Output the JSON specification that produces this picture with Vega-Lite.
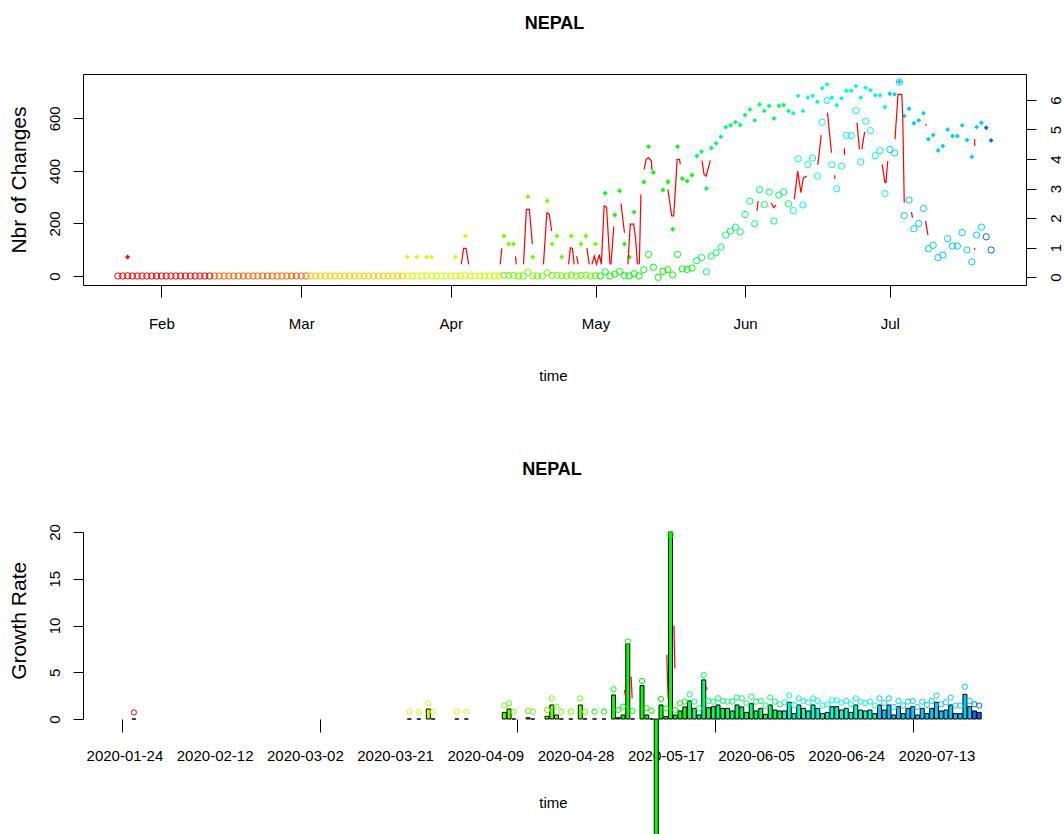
{
  "$schema": "https://vega.github.io/schema/vega-lite/v6.json",
  "background": "white",
  "padding": {"left": 7, "top": 14, "right": 0, "bottom": 0},
  "bounds": "flush",
  "spacing": 247,
  "config": {
    "font": "Liberation Sans",
    "view": {"stroke": null},
    "axis": {"grid": false, "domainColor": "black", "tickColor": "black", "labelColor": "black", "titleColor": "black", "labelFont": "Liberation Sans", "titleFont": "Liberation Sans", "labelFontSize": 15, "titleFontSize": 15, "titleFontWeight": "normal", "domainWidth": 1, "tickWidth": 1, "labelOverlap": false, "labelFlush": false, "labelBound": false},
    "title": {"fontSize": 18, "fontWeight": "bold", "font": "Liberation Sans", "color": "black", "anchor": "middle"}
  },
  "datasets": {
    "main": [
      {"date":"2020-01-23","d":0,"c":0},
      {"date":"2020-01-24","d":1,"c":0},
      {"date":"2020-01-25","d":2,"c":1,"lc":0.68},
      {"date":"2020-01-26","d":3,"c":0,"gr":0,"gc":0.7},
      {"date":"2020-01-27","d":4,"c":0},
      {"date":"2020-01-28","d":5,"c":0},
      {"date":"2020-01-29","d":6,"c":0},
      {"date":"2020-01-30","d":7,"c":0},
      {"date":"2020-01-31","d":8,"c":0},
      {"date":"2020-02-01","d":9,"c":0},
      {"date":"2020-02-02","d":10,"c":0},
      {"date":"2020-02-03","d":11,"c":0},
      {"date":"2020-02-04","d":12,"c":0},
      {"date":"2020-02-05","d":13,"c":0},
      {"date":"2020-02-06","d":14,"c":0},
      {"date":"2020-02-07","d":15,"c":0},
      {"date":"2020-02-08","d":16,"c":0},
      {"date":"2020-02-09","d":17,"c":0},
      {"date":"2020-02-10","d":18,"c":0},
      {"date":"2020-02-11","d":19,"c":0},
      {"date":"2020-02-12","d":20,"c":0},
      {"date":"2020-02-13","d":21,"c":0},
      {"date":"2020-02-14","d":22,"c":0},
      {"date":"2020-02-15","d":23,"c":0},
      {"date":"2020-02-16","d":24,"c":0},
      {"date":"2020-02-17","d":25,"c":0},
      {"date":"2020-02-18","d":26,"c":0},
      {"date":"2020-02-19","d":27,"c":0},
      {"date":"2020-02-20","d":28,"c":0},
      {"date":"2020-02-21","d":29,"c":0},
      {"date":"2020-02-22","d":30,"c":0},
      {"date":"2020-02-23","d":31,"c":0},
      {"date":"2020-02-24","d":32,"c":0},
      {"date":"2020-02-25","d":33,"c":0},
      {"date":"2020-02-26","d":34,"c":0},
      {"date":"2020-02-27","d":35,"c":0},
      {"date":"2020-02-28","d":36,"c":0},
      {"date":"2020-02-29","d":37,"c":0},
      {"date":"2020-03-01","d":38,"c":0},
      {"date":"2020-03-02","d":39,"c":0},
      {"date":"2020-03-03","d":40,"c":0},
      {"date":"2020-03-04","d":41,"c":0},
      {"date":"2020-03-05","d":42,"c":0},
      {"date":"2020-03-06","d":43,"c":0},
      {"date":"2020-03-07","d":44,"c":0},
      {"date":"2020-03-08","d":45,"c":0},
      {"date":"2020-03-09","d":46,"c":0},
      {"date":"2020-03-10","d":47,"c":0},
      {"date":"2020-03-11","d":48,"c":0},
      {"date":"2020-03-12","d":49,"c":0},
      {"date":"2020-03-13","d":50,"c":0},
      {"date":"2020-03-14","d":51,"c":0},
      {"date":"2020-03-15","d":52,"c":0},
      {"date":"2020-03-16","d":53,"c":0},
      {"date":"2020-03-17","d":54,"c":0},
      {"date":"2020-03-18","d":55,"c":0},
      {"date":"2020-03-19","d":56,"c":0},
      {"date":"2020-03-20","d":57,"c":0},
      {"date":"2020-03-21","d":58,"c":0},
      {"date":"2020-03-22","d":59,"c":0},
      {"date":"2020-03-23","d":60,"c":1,"lc":0.68},
      {"date":"2020-03-24","d":61,"c":0,"gr":0,"gc":0.78},
      {"date":"2020-03-25","d":62,"c":1,"lc":0.68},
      {"date":"2020-03-26","d":63,"c":0,"gr":0,"gc":0.78},
      {"date":"2020-03-27","d":64,"c":1,"lc":0.68},
      {"date":"2020-03-28","d":65,"c":1,"lc":0.68,"gr":1.07,"gc":1.68},
      {"date":"2020-03-29","d":66,"c":0,"gr":0,"gc":0.78},
      {"date":"2020-03-30","d":67,"c":0},
      {"date":"2020-03-31","d":68,"c":0},
      {"date":"2020-04-01","d":69,"c":0},
      {"date":"2020-04-02","d":70,"c":1,"lc":0.68},
      {"date":"2020-04-03","d":71,"c":0,"gr":0,"gc":0.78},
      {"date":"2020-04-04","d":72,"c":3,"lc":1.39},
      {"date":"2020-04-05","d":73,"c":0,"gr":0,"gc":0.78},
      {"date":"2020-04-06","d":74,"c":0},
      {"date":"2020-04-07","d":75,"c":0},
      {"date":"2020-04-08","d":76,"c":0},
      {"date":"2020-04-09","d":77,"c":0},
      {"date":"2020-04-10","d":78,"c":0},
      {"date":"2020-04-11","d":79,"c":0},
      {"date":"2020-04-12","d":80,"c":3,"lc":1.39},
      {"date":"2020-04-13","d":81,"c":2,"lc":1.12,"gr":0.71,"gc":1.43},
      {"date":"2020-04-14","d":82,"c":2,"lc":1.12,"gr":1.07,"gc":1.68},
      {"date":"2020-04-15","d":83,"c":0,"gr":0,"gc":0.78},
      {"date":"2020-04-16","d":84,"c":0},
      {"date":"2020-04-17","d":85,"c":14,"lc":2.72},
      {"date":"2020-04-18","d":86,"c":1,"lc":0.68,"gr":0.14,"gc":0.86},
      {"date":"2020-04-19","d":87,"c":0,"gr":0,"gc":0.78},
      {"date":"2020-04-20","d":88,"c":0},
      {"date":"2020-04-21","d":89,"c":12,"lc":2.58},
      {"date":"2020-04-22","d":90,"c":2,"lc":1.12,"gr":0.29,"gc":0.96},
      {"date":"2020-04-23","d":91,"c":3,"lc":1.39,"gr":1.5,"gc":2.21},
      {"date":"2020-04-24","d":92,"c":1,"lc":0.68,"gr":0.43,"gc":1.32},
      {"date":"2020-04-25","d":93,"c":0,"gr":0,"gc":0.78},
      {"date":"2020-04-26","d":94,"c":3,"lc":1.39},
      {"date":"2020-04-27","d":95,"c":0,"gr":0,"gc":0.78},
      {"date":"2020-04-28","d":96,"c":2,"lc":1.12},
      {"date":"2020-04-29","d":97,"c":3,"lc":1.39,"gr":1.5,"gc":2.21},
      {"date":"2020-04-30","d":98,"c":0,"gr":0,"gc":0.78},
      {"date":"2020-05-01","d":99,"c":2,"lc":1.12},
      {"date":"2020-05-02","d":100,"c":0,"gr":0,"gc":0.78},
      {"date":"2020-05-03","d":101,"c":16,"lc":2.84},
      {"date":"2020-05-04","d":102,"c":0,"gr":0,"gc":0.78},
      {"date":"2020-05-05","d":103,"c":7,"lc":2.1},
      {"date":"2020-05-06","d":104,"c":17,"lc":2.92,"gr":2.57,"gc":3.18},
      {"date":"2020-05-07","d":105,"c":2,"lc":1.12,"gr":0.14,"gc":0.96},
      {"date":"2020-05-08","d":106,"c":1,"lc":0.68,"gr":0.43,"gc":1.32},
      {"date":"2020-05-09","d":107,"c":8,"lc":2.2,"gr":8.04,"gc":8.28},
      {"date":"2020-05-10","d":108,"c":0,"gr":0,"gc":0.86},
      {"date":"2020-05-11","d":109,"c":24,"lc":3.22},
      {"date":"2020-05-12","d":110,"c":82,"lc":4.42,"gr":3.57,"gc":4.07},
      {"date":"2020-05-13","d":111,"c":33,"lc":3.54,"gr":0.43,"gc":1.14},
      {"date":"2020-05-14","d":112,"c":-5,"gr":0,"gc":0.86},
      {"date":"2020-05-15","d":113,"c":18,"lc":2.95,"gr":-18},
      {"date":"2020-05-16","d":114,"c":24,"lc":3.23,"gr":1.5,"gc":2.14},
      {"date":"2020-05-17","d":115,"c":4,"lc":1.62,"gr":0.25,"gc":1.14},
      {"date":"2020-05-18","d":116,"c":82,"lc":4.42,"gr":20,"gc":19.7},
      {"date":"2020-05-19","d":117,"c":27,"lc":3.34,"gr":0.43,"gc":0.96},
      {"date":"2020-05-20","d":118,"c":25,"lc":3.25,"gr":0.86,"gc":1.68},
      {"date":"2020-05-21","d":119,"c":30,"lc":3.45,"gr":1.29,"gc":1.86},
      {"date":"2020-05-22","d":120,"c":59,"lc":4.1,"gr":1.93,"gc":2.64},
      {"date":"2020-05-23","d":121,"c":70,"lc":4.25,"gr":1.14,"gc":1.86},
      {"date":"2020-05-24","d":122,"c":16,"lc":3.0,"gr":0.43,"gc":1.14},
      {"date":"2020-05-25","d":123,"c":76,"lc":4.37,"gr":4.18,"gc":4.71},
      {"date":"2020-05-26","d":124,"c":88,"lc":4.53,"gr":1.21,"gc":1.93},
      {"date":"2020-05-27","d":125,"c":110,"lc":4.75,"gr":1.32,"gc":1.86},
      {"date":"2020-05-28","d":126,"c":156,"lc":5.08,"gr":1.5,"gc":2.21},
      {"date":"2020-05-29","d":127,"c":171,"lc":5.14,"gr":1.14,"gc":1.93},
      {"date":"2020-05-30","d":128,"c":186,"lc":5.25,"gr":1.14,"gc":1.86},
      {"date":"2020-05-31","d":129,"c":168,"lc":5.15,"gr":0.86,"gc":1.86},
      {"date":"2020-06-01","d":130,"c":234,"lc":5.49,"gr":1.5,"gc":2.29},
      {"date":"2020-06-02","d":131,"c":285,"lc":5.68,"gr":1.29,"gc":2.21},
      {"date":"2020-06-03","d":132,"c":199,"lc":5.31,"gr":0.71,"gc":1.68},
      {"date":"2020-06-04","d":133,"c":329,"lc":5.85,"gr":1.64,"gc":2.39},
      {"date":"2020-06-05","d":134,"c":272,"lc":5.63,"gr":0.86,"gc":1.86},
      {"date":"2020-06-06","d":135,"c":319,"lc":5.8,"gr":1.14,"gc":1.93},
      {"date":"2020-06-07","d":136,"c":209,"lc":5.37,"gr":0.5,"gc":1.43},
      {"date":"2020-06-08","d":137,"c":308,"lc":5.8,"gr":1.5,"gc":2.29},
      {"date":"2020-06-09","d":138,"c":320,"lc":5.83,"gr":0.96,"gc":1.86},
      {"date":"2020-06-10","d":139,"c":275,"lc":5.63,"gr":0.86,"gc":1.57},
      {"date":"2020-06-11","d":140,"c":249,"lc":5.55,"gr":0.86,"gc":1.79},
      {"date":"2020-06-12","d":141,"c":446,"lc":6.14,"gr":1.79,"gc":2.5},
      {"date":"2020-06-13","d":142,"c":270,"lc":5.63,"gr":0.57,"gc":1.5},
      {"date":"2020-06-14","d":143,"c":424,"lc":6.08,"gr":1.5,"gc":2.21},
      {"date":"2020-06-15","d":144,"c":449,"lc":6.14,"gr":1.14,"gc":1.93},
      {"date":"2020-06-16","d":145,"c":380,"lc":5.94,"gr":0.86,"gc":1.79},
      {"date":"2020-06-17","d":146,"c":585,"lc":6.4,"gr":1.5,"gc":2.21},
      {"date":"2020-06-18","d":147,"c":668,"lc":6.53,"gr":1.14,"gc":1.93},
      {"date":"2020-06-19","d":148,"c":424,"lc":6.08,"gr":0.57,"gc":1.43},
      {"date":"2020-06-20","d":149,"c":332,"lc":5.82,"gr":0.71,"gc":1.57},
      {"date":"2020-06-21","d":150,"c":418,"lc":6.06,"gr":1.32,"gc":2.0},
      {"date":"2020-06-22","d":151,"c":535,"lc":6.31,"gr":1.32,"gc":2.0},
      {"date":"2020-06-23","d":152,"c":535,"lc":6.31,"gr":0.96,"gc":1.75},
      {"date":"2020-06-24","d":153,"c":629,"lc":6.47,"gr":1.14,"gc":1.93},
      {"date":"2020-06-25","d":154,"c":434,"lc":6.08,"gr":0.71,"gc":1.57},
      {"date":"2020-06-26","d":155,"c":589,"lc":6.42,"gr":1.5,"gc":2.21},
      {"date":"2020-06-27","d":156,"c":553,"lc":6.33,"gr":0.96,"gc":1.86},
      {"date":"2020-06-28","d":157,"c":458,"lc":6.16,"gr":0.86,"gc":1.71},
      {"date":"2020-06-29","d":158,"c":477,"lc":6.16,"gr":0.96,"gc":1.86},
      {"date":"2020-06-30","d":159,"c":314,"lc":5.76,"gr":0.57,"gc":1.43},
      {"date":"2020-07-01","d":160,"c":481,"lc":6.21,"gr":1.5,"gc":2.21},
      {"date":"2020-07-02","d":161,"c":468,"lc":6.19,"gr":0.96,"gc":1.71},
      {"date":"2020-07-03","d":162,"c":738,"lc":6.62,"gr":1.5,"gc":2.21},
      {"date":"2020-07-04","d":163,"c":230,"lc":5.46,"gr":0.43,"gc":1.29},
      {"date":"2020-07-05","d":164,"c":289,"lc":5.7,"gr":1.32,"gc":1.93},
      {"date":"2020-07-06","d":165,"c":180,"lc":5.21,"gr":0.57,"gc":1.43},
      {"date":"2020-07-07","d":166,"c":200,"lc":5.31,"gr":1.14,"gc":1.86},
      {"date":"2020-07-08","d":167,"c":257,"lc":5.55,"gr":1.32,"gc":1.93},
      {"date":"2020-07-09","d":168,"c":104,"lc":4.67,"gr":0.43,"gc":1.29},
      {"date":"2020-07-10","d":169,"c":117,"lc":4.81,"gr":1.14,"gc":1.86},
      {"date":"2020-07-11","d":170,"c":70,"lc":4.29,"gr":0.57,"gc":1.5},
      {"date":"2020-07-12","d":171,"c":80,"lc":4.44,"gr":1.14,"gc":1.93},
      {"date":"2020-07-13","d":172,"c":142,"lc":5.0,"gr":1.79,"gc":2.5},
      {"date":"2020-07-14","d":173,"c":114,"lc":4.78,"gr":0.86,"gc":1.57},
      {"date":"2020-07-15","d":174,"c":114,"lc":4.78,"gr":0.96,"gc":1.79},
      {"date":"2020-07-16","d":175,"c":165,"lc":5.14,"gr":1.5,"gc":2.29},
      {"date":"2020-07-17","d":176,"c":99,"lc":4.64,"gr":0.57,"gc":1.43},
      {"date":"2020-07-18","d":177,"c":54,"lc":4.07,"gr":0.57,"gc":1.43},
      {"date":"2020-07-19","d":178,"c":156,"lc":5.08,"gr":2.64,"gc":3.46},
      {"date":"2020-07-20","d":179,"c":186,"lc":5.23,"gr":1.32,"gc":1.93},
      {"date":"2020-07-21","d":180,"c":149,"lc":5.06,"gr":0.86,"gc":1.57},
      {"date":"2020-07-22","d":181,"c":99,"lc":4.63,"gr":0.71,"gc":1.43}
    ],
    "red_top": [
      {"seg":1,"t":"2020-04-03T04:00:00Z","v":0.43},{"seg":1,"t":"2020-04-03T16:00:00Z","v":0.97},{"seg":1,"t":"2020-04-04T04:00:00Z","v":0.97},{"seg":1,"t":"2020-04-04T17:00:00Z","v":0.43},
      {"seg":2,"t":"2020-04-11T06:00:00Z","v":0.43},{"seg":2,"t":"2020-04-11T14:00:00Z","v":0.97},
      {"seg":3,"t":"2020-04-14T10:00:00Z","v":0.7},{"seg":3,"t":"2020-04-14T14:00:00Z","v":0.43},
      {"seg":4,"t":"2020-04-16T02:00:00Z","v":0.43},{"seg":4,"t":"2020-04-16T16:00:00Z","v":2.29},{"seg":4,"t":"2020-04-17T07:00:00Z","v":2.29},{"seg":4,"t":"2020-04-17T22:00:00Z","v":1.11},
      {"seg":5,"t":"2020-04-20T05:00:00Z","v":0.43},{"seg":5,"t":"2020-04-20T22:00:00Z","v":2.18},{"seg":5,"t":"2020-04-21T10:00:00Z","v":2.13},{"seg":5,"t":"2020-04-21T22:00:00Z","v":1.56},
      {"seg":6,"t":"2020-04-25T10:00:00Z","v":0.43},{"seg":6,"t":"2020-04-25T19:00:00Z","v":0.99},{"seg":6,"t":"2020-04-26T05:00:00Z","v":0.97},{"seg":6,"t":"2020-04-26T14:00:00Z","v":0.43},
      {"seg":7,"t":"2020-04-27T02:00:00Z","v":0.71},{"seg":7,"t":"2020-04-27T10:00:00Z","v":0.43},
      {"seg":8,"t":"2020-04-29T05:00:00Z","v":0.99},{"seg":8,"t":"2020-04-29T17:00:00Z","v":0.43},
      {"seg":9,"t":"2020-04-30T06:00:00Z","v":0.43},{"seg":9,"t":"2020-04-30T18:00:00Z","v":0.71},{"seg":9,"t":"2020-05-01T05:00:00Z","v":0.43},{"seg":9,"t":"2020-05-01T19:00:00Z","v":0.76},{"seg":9,"t":"2020-05-02T05:00:00Z","v":0.43},{"seg":9,"t":"2020-05-02T19:00:00Z","v":2.41},{"seg":9,"t":"2020-05-03T07:00:00Z","v":2.37},{"seg":9,"t":"2020-05-04T00:00:00Z","v":0.43},
      {"seg":10,"t":"2020-05-04T05:00:00Z","v":0.43},{"seg":10,"t":"2020-05-04T19:00:00Z","v":1.71},
      {"seg":11,"t":"2020-05-06T07:00:00Z","v":2.49},{"seg":11,"t":"2020-05-06T19:00:00Z","v":1.79},{"seg":11,"t":"2020-05-07T00:00:00Z","v":1.5},
      {"seg":12,"t":"2020-05-07T17:00:00Z","v":0.43},{"seg":12,"t":"2020-05-08T05:00:00Z","v":1.79},{"seg":12,"t":"2020-05-08T22:00:00Z","v":1.79},{"seg":12,"t":"2020-05-09T07:00:00Z","v":1.33},{"seg":12,"t":"2020-05-09T17:00:00Z","v":0.43},
      {"seg":13,"t":"2020-05-10T02:00:00Z","v":0.43},{"seg":13,"t":"2020-05-10T10:00:00Z","v":2.8},
      {"seg":14,"t":"2020-05-11T02:00:00Z","v":3.65},{"seg":14,"t":"2020-05-11T12:00:00Z","v":3.99},{"seg":14,"t":"2020-05-12T00:00:00Z","v":4.05},{"seg":14,"t":"2020-05-12T14:00:00Z","v":3.93},{"seg":14,"t":"2020-05-12T17:00:00Z","v":3.62},
      {"seg":15,"t":"2020-05-16T00:00:00Z","v":2.97},{"seg":15,"t":"2020-05-16T19:00:00Z","v":2.07},{"seg":15,"t":"2020-05-17T05:00:00Z","v":2.07},{"seg":15,"t":"2020-05-17T17:00:00Z","v":3.37},{"seg":15,"t":"2020-05-17T22:00:00Z","v":3.99},{"seg":15,"t":"2020-05-18T10:00:00Z","v":3.99},{"seg":15,"t":"2020-05-18T14:00:00Z","v":3.82},
      {"seg":16,"t":"2020-05-23T02:00:00Z","v":3.95},{"seg":16,"t":"2020-05-23T12:00:00Z","v":3.48},{"seg":16,"t":"2020-05-23T22:00:00Z","v":3.42},{"seg":16,"t":"2020-05-24T10:00:00Z","v":3.71},{"seg":16,"t":"2020-05-24T19:00:00Z","v":3.95},
      {"seg":17,"t":"2020-06-03T12:00:00Z","v":2.24},{"seg":17,"t":"2020-06-03T17:00:00Z","v":2.58},
      {"seg":18,"t":"2020-06-06T10:00:00Z","v":2.52},{"seg":18,"t":"2020-06-06T22:00:00Z","v":2.35},{"seg":18,"t":"2020-06-07T10:00:00Z","v":2.44},
      {"seg":19,"t":"2020-06-11T05:00:00Z","v":2.63},{"seg":19,"t":"2020-06-11T22:00:00Z","v":3.59},{"seg":19,"t":"2020-06-12T14:00:00Z","v":2.86},{"seg":19,"t":"2020-06-13T02:00:00Z","v":3.37},{"seg":19,"t":"2020-06-13T19:00:00Z","v":3.42},
      {"seg":20,"t":"2020-06-16T02:00:00Z","v":3.8},{"seg":20,"t":"2020-06-16T19:00:00Z","v":4.81},
      {"seg":21,"t":"2020-06-18T02:00:00Z","v":5.57},{"seg":21,"t":"2020-06-18T22:00:00Z","v":4.21},
      {"seg":22,"t":"2020-06-19T13:00:00Z","v":3.45},{"seg":22,"t":"2020-06-19T16:00:00Z","v":3.32},
      {"seg":23,"t":"2020-06-21T14:00:00Z","v":4.36},{"seg":23,"t":"2020-06-21T15:00:00Z","v":4.14},
      {"seg":24,"t":"2020-06-24T05:00:00Z","v":5.23},{"seg":24,"t":"2020-06-24T17:00:00Z","v":4.33},
      {"seg":25,"t":"2020-06-25T05:00:00Z","v":4.33},{"seg":25,"t":"2020-06-25T19:00:00Z","v":4.92},
      {"seg":26,"t":"2020-06-29T10:00:00Z","v":3.82},{"seg":26,"t":"2020-06-30T00:00:00Z","v":3.2},{"seg":26,"t":"2020-06-30T05:00:00Z","v":3.2},{"seg":26,"t":"2020-06-30T14:00:00Z","v":3.93},
      {"seg":27,"t":"2020-07-02T02:00:00Z","v":4.67},{"seg":27,"t":"2020-07-02T17:00:00Z","v":6.19},{"seg":27,"t":"2020-07-03T12:00:00Z","v":6.19},{"seg":27,"t":"2020-07-03T17:00:00Z","v":5.29},{"seg":27,"t":"2020-07-04T00:00:00Z","v":2.52},
      {"seg":28,"t":"2020-07-05T12:00:00Z","v":2.2},{"seg":28,"t":"2020-07-05T17:00:00Z","v":2.01},
      {"seg":29,"t":"2020-07-08T10:00:00Z","v":1.9},{"seg":29,"t":"2020-07-08T22:00:00Z","v":1.42},
      {"seg":30,"t":"2020-07-08T12:00:00Z","v":5.18},{"seg":30,"t":"2020-07-08T13:00:00Z","v":5.12},
      {"seg":31,"t":"2020-07-18T14:00:00Z","v":4.67},{"seg":31,"t":"2020-07-18T15:00:00Z","v":4.44},
      {"seg":32,"t":"2020-07-18T14:00:00Z","v":0.99},{"seg":32,"t":"2020-07-18T15:00:00Z","v":0.92}
    ],
    "red_bot": [
      {"seg":1,"t":"2020-05-08T07:00:00Z","v":3.1},{"seg":1,"t":"2020-05-08T12:00:00Z","v":2.5},
      {"seg":2,"t":"2020-05-09T17:00:00Z","v":4.53},{"seg":2,"t":"2020-05-09T22:00:00Z","v":2.2},
      {"seg":3,"t":"2020-05-17T05:00:00Z","v":6.86},{"seg":3,"t":"2020-05-17T12:00:00Z","v":2.2},
      {"seg":4,"t":"2020-05-18T17:00:00Z","v":10},{"seg":4,"t":"2020-05-18T22:00:00Z","v":5.4},
      {"seg":5,"t":"2020-05-25T12:00:00Z","v":3.46},{"seg":5,"t":"2020-05-25T17:00:00Z","v":3.14}
    ]
  },
  "vconcat": [
    {
      "width": 943,
      "height": 211,
      "title": {"text": "NEPAL", "offset": 41},
      "view": {"stroke": "black", "strokeWidth": 1},
      "layer": [
        {
          "data": {"name": "main"},
          "mark": {"type": "point", "shape": "circle", "filled": false, "size": 40, "strokeWidth": 1, "opacity": 1},
          "encoding": {
            "x": {"field": "date", "type": "temporal",
              "scale": {"type": "utc", "nice": false, "domain": [{"year":2020,"month":1,"date":15,"hours":18,"minutes":14,"utc":true},{"year":2020,"month":7,"date":29,"hours":5,"minutes":46,"utc":true}]},
              "axis": {"values": [{"year":2020,"month":2,"date":1,"utc":true},{"year":2020,"month":3,"date":1,"utc":true},{"year":2020,"month":4,"date":1,"utc":true},{"year":2020,"month":5,"date":1,"utc":true},{"year":2020,"month":6,"date":1,"utc":true},{"year":2020,"month":7,"date":1,"utc":true}],
                "format": "%b", "tickSize": 12, "labelPadding": 26, "labelBaseline": "middle", "labelAlign": "center", "labelAngle": 0, "domain": false,
                "title": "time", "titleX": 470, "titleY": 90, "titleBaseline": "middle", "titleAlign": "center"}},
            "y": {"field": "c", "type": "quantitative",
              "scale": {"domain": [-34.2, 768.6], "nice": false, "zero": false},
              "axis": {"orient": "left", "values": [0, 200, 400, 600], "tickSize": 10, "labelAngle": -90, "labelAlign": "center", "labelBaseline": "middle", "labelPadding": 18.5, "labelOverlap": false, "domain": false,
                "title": "Nbr of Changes", "titleFontSize": 21, "titleAngle": -90, "titleX": -64, "titleY": 105.5, "titleAlign": "center", "titleBaseline": "middle"}},
            "color": {"field": "d", "type": "quantitative", "legend": null,
              "scale": {"type": "threshold", "domain": [20, 40, 60, 80, 100, 120, 140, 160, 180], "range": ["#FF0000", "#FF6600", "#FFCC00", "#CCFF00", "#66FF00", "#00FF00", "#00FF66", "#00FFCC", "#00CCFF", "#0066FF"]}}
          }
        },
        {
          "layer": [
            {
              "data": {"name": "main"},
              "mark": {"type": "point", "shape": "diamond", "filled": true, "size": 24, "opacity": 1},
              "encoding": {
                "x": {"field": "date", "type": "temporal"},
                "y": {"field": "lc", "type": "quantitative", "scale": {"domain": [-0.27, 6.88], "nice": false, "zero": false},
                  "axis": {"orient": "right", "values": [0, 1, 2, 3, 4, 5, 6], "tickSize": 10, "labelAngle": -90, "labelAlign": "center", "labelBaseline": "middle", "labelPadding": 19, "labelOverlap": false, "domain": false, "title": null}},
                "color": {"field": "d", "type": "quantitative", "legend": null,
                  "scale": {"type": "threshold", "domain": [20, 40, 60, 80, 100, 120, 140, 160, 180], "range": ["#FF0000", "#FF6600", "#FFCC00", "#CCFF00", "#66FF00", "#00FF00", "#00FF66", "#00FFCC", "#00CCFF", "#0066FF"]}}
              }
            },
            {
              "data": {"name": "red_top"},
              "mark": {"type": "line", "color": "#FF0000", "strokeWidth": 1.2},
              "encoding": {
                "x": {"field": "t", "type": "temporal"},
                "y": {"field": "v", "type": "quantitative", "scale": {"domain": [-0.27, 6.88], "nice": false, "zero": false},
                  "axis": {"orient": "right", "values": [0, 1, 2, 3, 4, 5, 6], "tickSize": 10, "labelAngle": -90, "labelAlign": "center", "labelBaseline": "middle", "labelPadding": 19, "labelOverlap": false, "domain": false, "title": null}},
                "detail": {"field": "seg", "type": "nominal"}
              }
            }
          ]
        }
      ],
      "resolve": {"scale": {"y": "independent"}}
    },
    {
      "width": 938,
      "height": 187,
      "title": {"text": "NEPAL", "offset": 45},
      "layer": [
        {
          "data": {"name": "main"},
          "mark": {"type": "bar", "width": 4, "stroke": "black", "strokeWidth": 1, "clip": false},
          "encoding": {
            "x": {"field": "date", "type": "temporal",
              "scale": {"type": "utc", "nice": false, "domain": [{"year":2020,"month":1,"date":16,"hours":8,"utc":true},{"year":2020,"month":7,"date":29,"hours":18,"utc":true}]},
              "axis": {"orient": "bottom", "values": [{"year":2020,"month":1,"date":24,"utc":true},{"year":2020,"month":2,"date":12,"utc":true},{"year":2020,"month":3,"date":2,"utc":true},{"year":2020,"month":3,"date":21,"utc":true},{"year":2020,"month":4,"date":9,"utc":true},{"year":2020,"month":4,"date":28,"utc":true},{"year":2020,"month":5,"date":17,"utc":true},{"year":2020,"month":6,"date":5,"utc":true},{"year":2020,"month":6,"date":24,"utc":true},{"year":2020,"month":7,"date":13,"utc":true}],
                "format": "%Y-%m-%d", "ticks": false, "tickSize": 0, "labelPadding": 36, "labelBaseline": "middle", "labelAlign": "center", "labelAngle": 0, "domain": false,
                "title": "time", "titleX": 470, "titleY": 83.5, "titleBaseline": "middle", "titleAlign": "center"}},
            "y": {"field": "gr", "type": "quantitative",
              "scale": {"domain": [0, 20], "nice": false, "zero": true},
              "axis": {"orient": "left", "values": [0, 5, 10, 15, 20], "tickSize": 10, "labelAngle": -90, "labelAlign": "center", "labelBaseline": "middle", "labelPadding": 18.7, "labelOverlap": false, "domain": true,
                "title": "Growth Rate", "titleFontSize": 21, "titleAngle": -90, "titleX": -64, "titleY": 88.3, "titleAlign": "center", "titleBaseline": "middle"}},
            "color": {"field": "d", "type": "quantitative", "legend": null,
              "scale": {"type": "threshold", "domain": [20, 40, 60, 80, 100, 120, 140, 160, 180], "range": ["#FF0000", "#FF6600", "#FFCC00", "#CCFF00", "#66FF00", "#00FF00", "#00FF66", "#00FFCC", "#00CCFF", "#0066FF"]}}
          }
        },
        {
          "data": {"name": "main"},
          "mark": {"type": "point", "shape": "circle", "filled": false, "size": 28, "strokeWidth": 1, "opacity": 1},
          "encoding": {
            "x": {"field": "date", "type": "temporal",
              "axis": {"orient": "bottom", "values": [{"year":2020,"month":1,"date":23,"hours":10,"utc":true},{"year":2020,"month":3,"date":5,"hours":2,"utc":true},{"year":2020,"month":4,"date":15,"hours":18,"utc":true},{"year":2020,"month":5,"date":27,"hours":10,"utc":true},{"year":2020,"month":7,"date":8,"hours":2,"utc":true}],
                "labels": false, "tickSize": 13, "domain": false, "title": null}},
            "y": {"field": "gc", "type": "quantitative"},
            "color": {"field": "d", "type": "quantitative", "legend": null,
              "scale": {"type": "threshold", "domain": [20, 40, 60, 80, 100, 120, 140, 160, 180], "range": ["#FF0000", "#FF6600", "#FFCC00", "#CCFF00", "#66FF00", "#00FF00", "#00FF66", "#00FFCC", "#00CCFF", "#0066FF"]}}
          }
        },
        {
          "data": {"name": "red_bot"},
          "mark": {"type": "line", "color": "#FF0000", "strokeWidth": 1.2},
          "encoding": {
            "x": {"field": "t", "type": "temporal", "axis": null},
            "y": {"field": "v", "type": "quantitative"},
            "detail": {"field": "seg", "type": "nominal"}
          }
        },
        {
          "mark": {"type": "rule", "color": "black", "strokeWidth": 1},
          "encoding": {
            "x": {"datum": {"year":2020,"month":1,"date":23,"hours":10,"utc":true}, "type": "temporal", "axis": null},
            "x2": {"datum": {"year":2020,"month":7,"date":8,"hours":2,"utc":true}},
            "y": {"datum": 0, "type": "quantitative"}
          }
        }
      ],
      "resolve": {"axis": {"x": "independent"}}
    }
  ]
}
